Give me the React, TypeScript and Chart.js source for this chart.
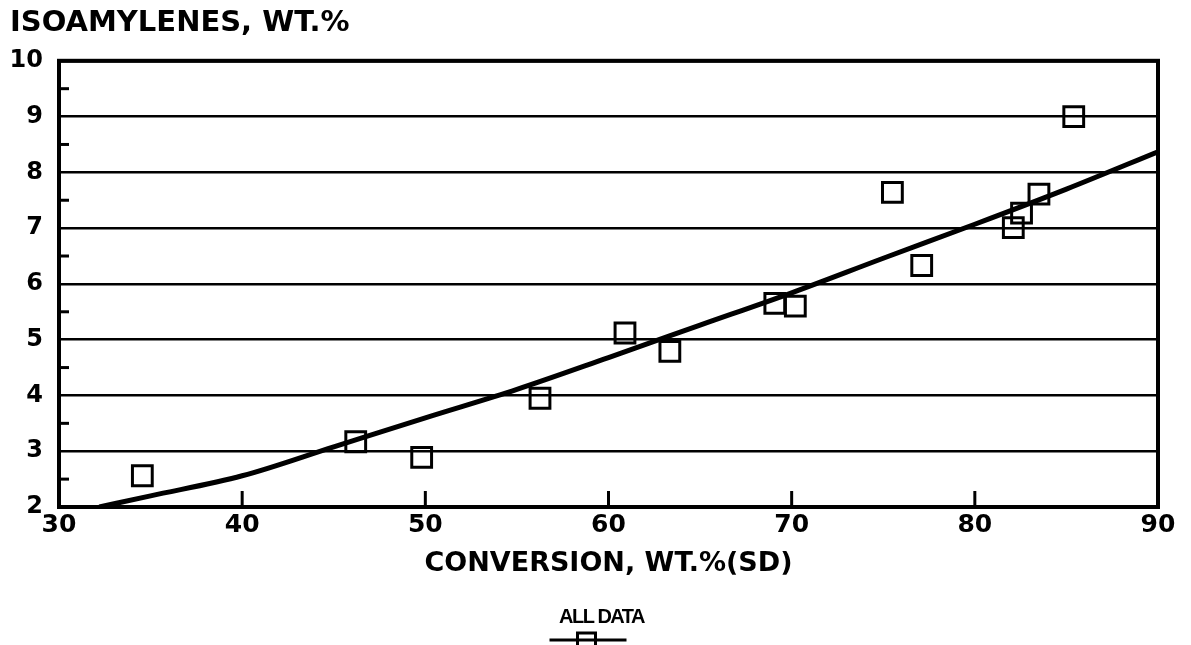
import React, { useEffect, useRef } from 'react';
import { Chart, registerables } from 'chart.js';

Chart.register(...registerables);

// Measured data points (conversion wt.% vs isoamylenes wt.%)
const conversion = [34.55, 46.2, 49.8, 56.26, 60.9, 63.35, 69.08, 70.2, 75.5, 77.1, 82.1, 82.55, 83.5, 85.4];
const isoamylenes = [2.56, 3.17, 2.89, 3.95, 5.12, 4.79, 5.65, 5.6, 7.64, 6.33, 7.01, 7.27, 7.61, 9.0];

// Fitted curve
const fitConversion = [32.2, 35, 40, 45, 50, 55, 60, 65, 70, 75, 80, 85, 90];
const fitIsoamylenes = [2.0, 2.2, 2.56, 3.08, 3.6, 4.11, 4.68, 5.26, 5.84, 6.46, 7.07, 7.7, 8.37];

// Axis settings
const xMin = 30;
const xMax = 90;
const xStep = 10;
const yMin = 2;
const yMax = 10;
const yStep = 1;
const xInnerTicks = [40, 50, 60, 70, 80];
const yMinorTicks = [2.5, 3.5, 4.5, 5.5, 6.5, 7.5, 8.5, 9.5];

const titleText = 'ISOAMYLENES, WT.%';
const xTitleText = 'CONVERSION, WT.%(SD)';
const legendText = 'ALL DATA';

const FONT = "'DejaVu Sans', sans-serif";

export default function App() {
  const ref = useRef<HTMLCanvasElement>(null);

  useEffect(() => {
    document.body.style.margin = '0';
    const canvas = ref.current;
    if (!canvas) return;

    const decorations = {
      id: 'decorations',
      afterDraw(chart: any) {
        const { ctx, chartArea, scales } = chart;
        const xs = scales.x;
        const ys = scales.y;
        ctx.save();
        ctx.strokeStyle = '#000';
        ctx.fillStyle = '#000';
        // frame
        ctx.lineWidth = 4;
        ctx.strokeRect(chartArea.left, chartArea.top, chartArea.right - chartArea.left, chartArea.bottom - chartArea.top);
        // inward x ticks
        ctx.lineWidth = 3;
        xInnerTicks.forEach((v) => {
          const px = xs.getPixelForValue(v);
          ctx.beginPath();
          ctx.moveTo(px, chartArea.bottom);
          ctx.lineTo(px, chartArea.bottom - 16);
          ctx.stroke();
        });
        // inward minor y ticks
        yMinorTicks.forEach((v) => {
          const py = ys.getPixelForValue(v);
          ctx.beginPath();
          ctx.moveTo(chartArea.left, py);
          ctx.lineTo(chartArea.left + 10, py);
          ctx.stroke();
        });
        // legend: label above a line sample with square marker
        const cx = (chartArea.left + chartArea.right) / 2 - 7;
        ctx.font = `bold 20px 'Liberation Sans', sans-serif`;
        try { (ctx as any).letterSpacing = '-1.5px'; } catch (e) {}
        ctx.textAlign = 'center';
        ctx.textBaseline = 'middle';
        ctx.fillText(legendText, cx, 617);
        try { (ctx as any).letterSpacing = '0px'; } catch (e) {}
        ctx.lineWidth = 3;
        ctx.beginPath();
        ctx.moveTo(cx - 52, 640);
        ctx.lineTo(cx + 25, 640);
        ctx.stroke();
        ctx.lineWidth = 3;
        ctx.strokeRect(cx - 24, 633, 18, 18);
        ctx.restore();
      },
    };

    const chart = new Chart(canvas, {
      type: 'scatter',
      data: {
        datasets: [
          {
            label: legendText,
            data: conversion.map((x, i) => ({ x, y: isoamylenes[i] })),
            pointStyle: 'rect',
            pointRadius: 14,
            pointBorderWidth: 3,
            borderColor: '#000',
            backgroundColor: 'rgba(0,0,0,0)',
            showLine: false,
          },
          {
            label: 'fit',
            data: fitConversion.map((x, i) => ({ x, y: fitIsoamylenes[i] })),
            showLine: true,
            pointRadius: 0,
            borderColor: '#000',
            borderWidth: 5,
            cubicInterpolationMode: 'monotone',
          },
        ],
      },
      options: {
        responsive: false,
        animation: false,
        events: [],
        layout: { padding: { left: 10, right: 33, top: 0, bottom: 50 } },
        plugins: {
          legend: { display: false },
          tooltip: { enabled: false },
          title: {
            display: true,
            text: titleText,
            align: 'start',
            color: '#000',
            font: { family: FONT, size: 29, weight: 'bold' },
            padding: { top: 6, bottom: 20 },
          },
        },
        scales: {
          x: {
            type: 'linear',
            min: xMin,
            max: xMax,
            ticks: {
              stepSize: xStep,
              color: '#000',
              padding: 3,
              maxRotation: 0,
              font: { family: FONT, size: 25, weight: 'bold' },
            },
            grid: { display: false, drawTicks: false },
            border: { display: true, color: '#000', width: 4 },
            title: {
              display: true,
              text: xTitleText,
              color: '#000',
              font: { family: FONT, size: 27, weight: 'bold' },
              padding: { top: 0, bottom: 15 },
            },
            afterFit: (s: any) => {
              s.height = 88;
            },
          },
          y: {
            type: 'linear',
            min: yMin,
            max: yMax,
            ticks: {
              stepSize: yStep,
              color: '#000',
              padding: 16,
              font: { family: FONT, size: 24, weight: 'bold' },
            },
            grid: { color: '#000', lineWidth: 2.5, drawTicks: false },
            border: { display: true, color: '#000', width: 4 },
            afterFit: (s: any) => {
              s.width = 49;
            },
          },
        },
      },
      plugins: [decorations],
    } as any);

    return () => chart.destroy();
  }, []);

  return <canvas ref={ref} width={1191} height={645} style={{ display: 'block' }} />;
}
